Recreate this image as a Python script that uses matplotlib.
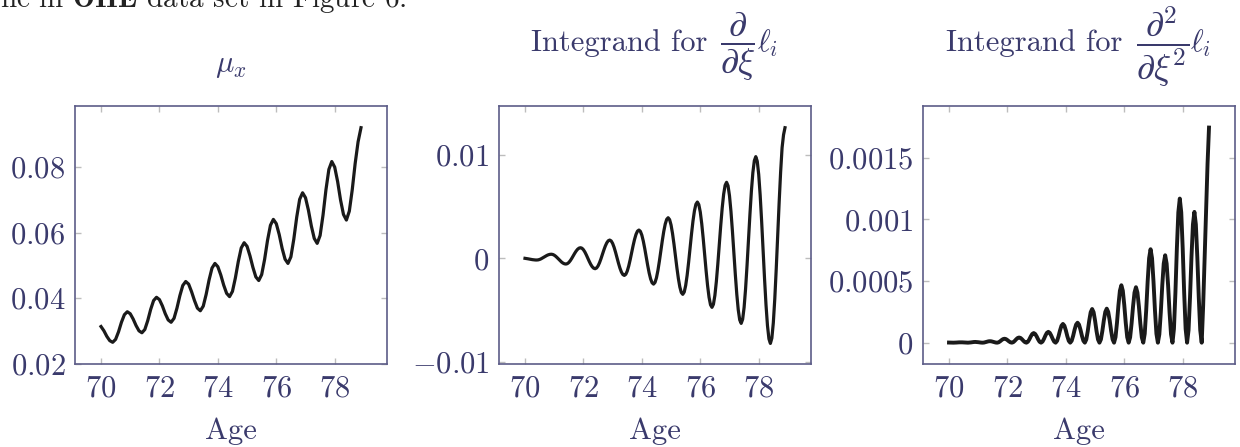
import matplotlib
matplotlib.use("Agg")
import matplotlib.pyplot as plt
import numpy as np

plt.rcParams['font.family'] = 'serif'
plt.rcParams['font.serif'] = ['cmr10', 'DejaVu Serif']
plt.rcParams['mathtext.fontset'] = 'cm'
plt.rcParams['axes.unicode_minus'] = False

# ages on a regular grid (0.1 years for panel 1, 0.05 for panels 2-3)
age = np.linspace(70, 78.9, 90)
age_fine = np.linspace(70, 78.9, 179)

# mu_x
mu_x = [
    0.0314, 0.0301, 0.0284, 0.0271, 0.0266, 0.0275, 0.0298, 0.0327, 0.0350, 0.0359,
    0.0353, 0.0337, 0.0317, 0.0301, 0.0295, 0.0305, 0.0332, 0.0366, 0.0393, 0.0403,
    0.0396, 0.0377, 0.0353, 0.0334, 0.0327, 0.0339, 0.0370, 0.0408, 0.0439, 0.0451,
    0.0443, 0.0420, 0.0393, 0.0370, 0.0362, 0.0376, 0.0412, 0.0456, 0.0492, 0.0506,
    0.0496, 0.0471, 0.0440, 0.0415, 0.0405, 0.0421, 0.0462, 0.0512, 0.0553, 0.0569,
    0.0558, 0.0529, 0.0494, 0.0465, 0.0454, 0.0472, 0.0518, 0.0576, 0.0622, 0.0640,
    0.0627, 0.0594, 0.0552, 0.0519, 0.0506, 0.0526, 0.0580, 0.0647, 0.0701, 0.0721,
    0.0706, 0.0668, 0.0620, 0.0582, 0.0567, 0.0591, 0.0653, 0.0730, 0.0792, 0.0816,
    0.0799, 0.0755, 0.0699, 0.0655, 0.0638, 0.0665, 0.0730, 0.0810, 0.0876, 0.0919,
]

# integrand for first derivative (units of 1e-4), step 0.05
d1 = [
    0.03, -0.17, -0.42, -0.70, -0.98, -1.23, -1.43, -1.56, -1.60,
    -1.46, -1.07, -0.45, 0.33, 1.20, 2.07, 2.85, 3.47, 3.86, 4.00,
    3.77, 3.09, 2.04, 0.72, -0.75, -2.22, -3.54, -4.59, -5.27, -5.50,
    -5.11, -3.99, -2.24, -0.04, 2.40, 4.84, 7.04, 8.79, 9.91, 10.30,
    9.80, 8.36, 6.12, 3.29, 0.15, -2.99, -5.82, -8.06, -9.50, -10.00,
    -9.32, -7.35, -4.29, -0.43, 3.85, 8.13, 11.99, 15.05, 17.02, 17.70,
    16.86, 14.43, 10.65, 5.88, 0.60, -4.68, -9.45, -13.23, -15.66, -16.50,
    -15.42, -12.31, -7.45, -1.33, 5.45, 12.23, 18.35, 23.21, 26.32, 27.40,
    26.12, 22.41, 16.62, 9.33, 1.25, -6.83, -14.12, -19.91, -23.62, -24.90,
    -23.33, -18.77, -11.67, -2.72, 7.20, 17.12, 26.07, 33.17, 37.73, 39.30,
    37.48, 32.22, 24.03, 13.70, 2.25, -9.20, -19.53, -27.72, -32.99, -34.80,
    -32.61, -26.27, -16.40, -3.95, 9.85, 23.65, 36.10, 45.97, 52.31, 54.50,
    52.00, 44.77, 33.50, 19.29, 3.55, -12.19, -26.40, -37.67, -44.90, -47.40,
    -44.44, -35.84, -22.46, -5.59, 13.10, 31.80, 48.66, 62.05, 70.64, 73.60,
    70.26, 60.56, 45.47, 26.44, 5.35, -15.74, -34.77, -49.86, -59.56, -62.90,
    -58.95, -47.50, -29.66, -7.17, 17.75, 42.67, 65.16, 83.00, 94.45, 98.40,
    93.97, 81.14, 61.16, 35.97, 8.05, -19.87, -45.06, -65.04, -77.87, -82.30,
    -77.19, -62.37, -39.29, -10.19, 22.05, 54.29, 83.39, 107.0, 119.5, 126.4,
]

# integrand for second derivative (units of 1e-5), step 0.05
d2 = [
    0.10, 0.05, 0.01,
    0.00, 0.03, 0.10, 0.20, 0.27, 0.30, 0.27, 0.20, 0.10, 0.03,
    0.00, 0.06, 0.21, 0.39, 0.54, 0.60, 0.54, 0.39, 0.21, 0.06,
    0.00, 0.11, 0.41, 0.79, 1.09, 1.20, 1.09, 0.79, 0.41, 0.11,
    0.00, 0.31, 1.11, 2.09, 2.89, 3.20, 2.89, 2.09, 1.11, 0.31,
    0.00, 0.40, 1.45, 2.75, 3.80, 4.20, 3.80, 2.75, 1.45, 0.40,
    0.00, 0.74, 2.69, 5.11, 7.06, 7.80, 7.06, 5.11, 2.69, 0.74,
    0.00, 0.84, 3.04, 5.76, 7.96, 8.80, 7.96, 5.76, 3.04, 0.84,
    0.00, 1.45, 5.25, 9.95, 13.75, 15.2, 13.75, 9.95, 5.25, 1.45,
    0.00, 1.55, 5.60, 10.60, 14.65, 16.2, 14.65, 10.60, 5.60, 1.55,
    0.00, 2.61, 9.43, 17.87, 24.69, 27.3, 24.69, 17.87, 9.43, 2.61,
    0.00, 2.64, 9.54, 18.06, 24.96, 27.6, 24.96, 18.06, 9.54, 2.64,
    0.00, 4.45, 16.10, 30.50, 42.15, 46.6, 42.15, 30.50, 16.10, 4.45,
    0.00, 4.30, 15.55, 29.45, 40.70, 45.0, 40.70, 29.45, 15.55, 4.30,
    0.00, 7.24, 26.19, 49.61, 68.56, 75.8, 68.56, 49.61, 26.19, 7.24,
    0.00, 6.77, 24.50, 46.40, 64.13, 70.9, 64.13, 46.40, 24.50, 6.77,
    0.00, 11.16, 40.39, 76.51, 105.74, 116.9, 105.74, 76.51, 40.39, 11.16,
    0.00, 10.13, 36.66, 69.44, 95.97, 106.1, 95.97, 69.44, 36.66, 10.13,
    0.00, 30.0, 68.0, 108.0, 145.0, 174.5,
]

x_ticks = [70, 72, 74, 76, 78]
y_ticks = [
    [0.02, 0.04, 0.06, 0.08],
    [-0.01, 0, 0.01],
    [0, 0.0005, 0.001, 0.0015],
]
y_labels = [
    ['0.02', '0.04', '0.06', '0.08'],
    ['-0.01', '0', '0.01'],
    ['0', '0.0005', '0.001', '0.0015'],
]
# title pieces: plain text, fraction, trailing symbol
titles = [
    (None, r'$\mu_x$', None),
    ('Integrand for', r'$\dfrac{\partial}{\partial\xi}$', r'$\ell_i$'),
    ('Integrand for', r'$\dfrac{\partial^2}{\partial\xi^2}$', r'$\ell_i$'),
]
# horizontal offsets (px from axes centre): end of text, start of fraction, start of l_i
title_dx = [None, (52, 65, 102), (43, 57, 111)]
ylims = [(0.02, 0.0985), (-0.01022, 0.01474), (-0.000173, 0.00192)]

text_col = '#3a3a6c'
spine_col = '#5c5c88'
tick_col = '#bdbdbd'
fs = 22
W, H = 1240, 447

fig = plt.figure(figsize=(12.4, 4.47), dpi=100)
lefts = [75, 499, 923]
series = [(age, np.array(mu_x)), (age_fine, np.array(d1) * 1e-4), (age_fine, np.array(d2) * 1e-5)]
widths = [2.3, 2.3, 2.8]

for i in range(3):
    ax = fig.add_axes([lefts[i] / W, 83 / H, 312 / W, 258 / H])
    xs, ys = series[i]
    ax.plot(xs, ys, color='#1a1a1a', lw=widths[i], solid_joinstyle='round')
    ax.set_xlim(69.11, 79.79)
    ax.set_ylim(*ylims[i])
    ax.set_xticks(x_ticks)
    ax.set_xticklabels(['$%d$' % t for t in x_ticks])
    ax.set_yticks(y_ticks[i])
    ax.set_yticklabels(['$%s$' % s for s in y_labels[i]])
    ax.tick_params(direction='in', length=4.5, width=1.0, color=tick_col,
                   labelcolor=text_col, labelsize=fs, top=True, right=True)
    ax.tick_params(axis='x', pad=8)
    ax.tick_params(axis='y', pad=7)
    for sp in ax.spines.values():
        sp.set_color(spine_col)
        sp.set_linewidth(1.2)
    ax.set_xlabel('Age', fontsize=fs, color=text_col, labelpad=11)

    plain, frac, tail = titles[i]
    cx = lefts[i] + 156
    if plain is None:
        ax.text(0.5, 1.10, frac, transform=ax.transAxes, ha='center', va='bottom',
                fontsize=fs, color=text_col)
    else:
        d_end, d_frac, d_tail = title_dx[i]
        base = (H - 51) / H
        fig.text((cx + d_end) / W, base, plain, ha='right', va='baseline',
                 fontsize=fs, color=text_col)
        fig.text((cx + d_frac) / W, base, frac, ha='left', va='baseline',
                 fontsize=26, color=text_col)
        fig.text((cx + d_tail) / W, (H - 52) / H, tail, ha='left', va='baseline',
                 fontsize=fs, color=text_col)

fig.text(0.0, 1 - 7 / H, r'ne in $\mathbf{OHE}$ data set in Figure 6.', fontsize=21,
         color='#222222', ha='left', va='baseline')

fig.savefig('out.png', dpi=100)
